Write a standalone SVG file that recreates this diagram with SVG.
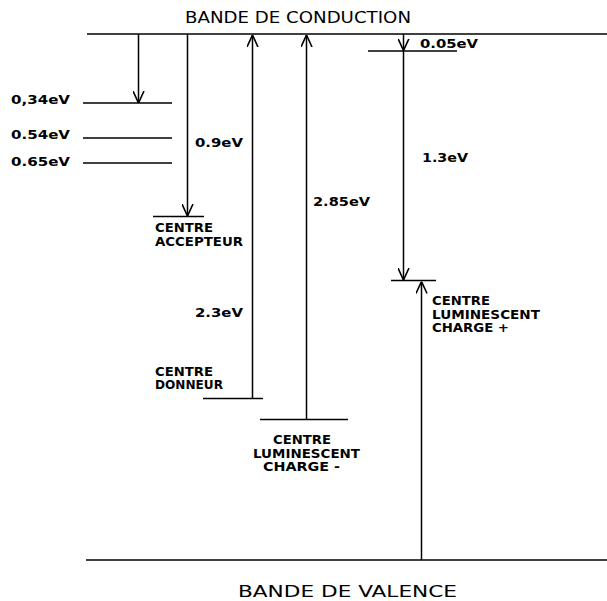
<svg xmlns="http://www.w3.org/2000/svg" width="607" height="601" viewBox="0 0 607 601">
<style>
.ln{stroke:#000;stroke-width:1.6;fill:none}
.ar{stroke:#000;stroke-width:1.5;fill:none;marker-end:url(#v)}
.t{font-family:"DejaVu Sans","Liberation Sans",sans-serif;font-weight:bold;font-size:11.5px;fill:#000}
.h{font-family:"DejaVu Sans","Liberation Sans",sans-serif;font-size:15.5px;fill:#000}
</style>
<defs>
<marker id="v" viewBox="0 0 12 12" refX="12" refY="6" markerWidth="12" markerHeight="12" markerUnits="userSpaceOnUse" orient="auto">
<path d="M0,0.5 L12,6 L0,11.5" fill="none" stroke="#000" stroke-width="1.6"/>
</marker>
</defs>
<rect width="607" height="601" fill="#fff"/>
<g id="conduction">
<line class="ln" x1="87" y1="34" x2="607" y2="34"/>
<text class="h" x="185" y="22.5" textLength="226" lengthAdjust="spacingAndGlyphs">BANDE DE CONDUCTION</text>
</g>
<g id="valence">
<line class="ln" x1="86" y1="560" x2="607" y2="560"/>
<text class="h" x="238" y="596.5" textLength="219" lengthAdjust="spacingAndGlyphs">BANDE DE VALENCE</text>
</g>
<g id="level034">
<line class="ln" x1="83" y1="103" x2="172" y2="103"/>
<text class="t" x="11" y="104" textLength="59" lengthAdjust="spacingAndGlyphs">0,34eV</text>
</g>
<g id="level054">
<line class="ln" x1="83" y1="138" x2="172" y2="138"/>
<text class="t" x="11" y="139" textLength="59" lengthAdjust="spacingAndGlyphs">0.54eV</text>
</g>
<g id="level065">
<line class="ln" x1="83" y1="163" x2="172" y2="163"/>
<text class="t" x="11" y="165.5" textLength="59" lengthAdjust="spacingAndGlyphs">0.65eV</text>
</g>
<g id="accepteur">
<line class="ln" x1="153" y1="216.5" x2="204" y2="216.5"/>
<text class="t" x="155" y="231.5" textLength="58" lengthAdjust="spacingAndGlyphs">CENTRE</text>
<text class="t" x="155" y="246" textLength="88" lengthAdjust="spacingAndGlyphs">ACCEPTEUR</text>
</g>
<g id="donneur">
<line class="ln" x1="203" y1="398.5" x2="263" y2="398.5"/>
<text class="t" x="155" y="375.5" textLength="58" lengthAdjust="spacingAndGlyphs">CENTRE</text>
<text class="t" x="155" y="389" textLength="68" lengthAdjust="spacingAndGlyphs">DONNEUR</text>
</g>
<g id="lumin-moins">
<line class="ln" x1="260" y1="419.5" x2="348" y2="419.5"/>
<text class="t" x="273" y="444" textLength="58" lengthAdjust="spacingAndGlyphs">CENTRE</text>
<text class="t" x="253" y="458" textLength="107" lengthAdjust="spacingAndGlyphs">LUMINESCENT</text>
<text class="t" x="263" y="471" textLength="77" lengthAdjust="spacingAndGlyphs">CHARGE -</text>
</g>
<g id="level005">
<line class="ln" x1="368" y1="51" x2="457" y2="51"/>
</g>
<g id="lumin-plus">
<line class="ln" x1="391" y1="280.5" x2="436" y2="280.5"/>
<text class="t" x="432" y="305" textLength="58" lengthAdjust="spacingAndGlyphs">CENTRE</text>
<text class="t" x="432" y="319" textLength="108" lengthAdjust="spacingAndGlyphs">LUMINESCENT</text>
<text class="t" x="432" y="332" textLength="77" lengthAdjust="spacingAndGlyphs">CHARGE +</text>
</g>
<g id="connectors">
<line class="ar" x1="138.5" y1="34" x2="138.5" y2="103"/>
<line class="ar" x1="187.5" y1="34" x2="187.5" y2="216"/>
<line class="ar" x1="252.5" y1="398.5" x2="252.5" y2="35"/>
<line class="ar" x1="306.5" y1="419.5" x2="306.5" y2="35"/>
<line class="ar" x1="403.5" y1="34" x2="403.5" y2="50.5"/>
<line class="ar" x1="403.5" y1="51" x2="403.5" y2="280"/>
<line class="ar" x1="421.5" y1="560" x2="421.5" y2="281.5"/>
<text class="t" x="195" y="147" textLength="48" lengthAdjust="spacingAndGlyphs">0.9eV</text>
<text class="t" x="195" y="316.5" textLength="48" lengthAdjust="spacingAndGlyphs">2.3eV</text>
<text class="t" x="313" y="206" textLength="57" lengthAdjust="spacingAndGlyphs">2.85eV</text>
<text class="t" x="420" y="48" textLength="58" lengthAdjust="spacingAndGlyphs">0.05eV</text>
<text class="t" x="422" y="161.5" textLength="46" lengthAdjust="spacingAndGlyphs">1.3eV</text>
</g>
</svg>
